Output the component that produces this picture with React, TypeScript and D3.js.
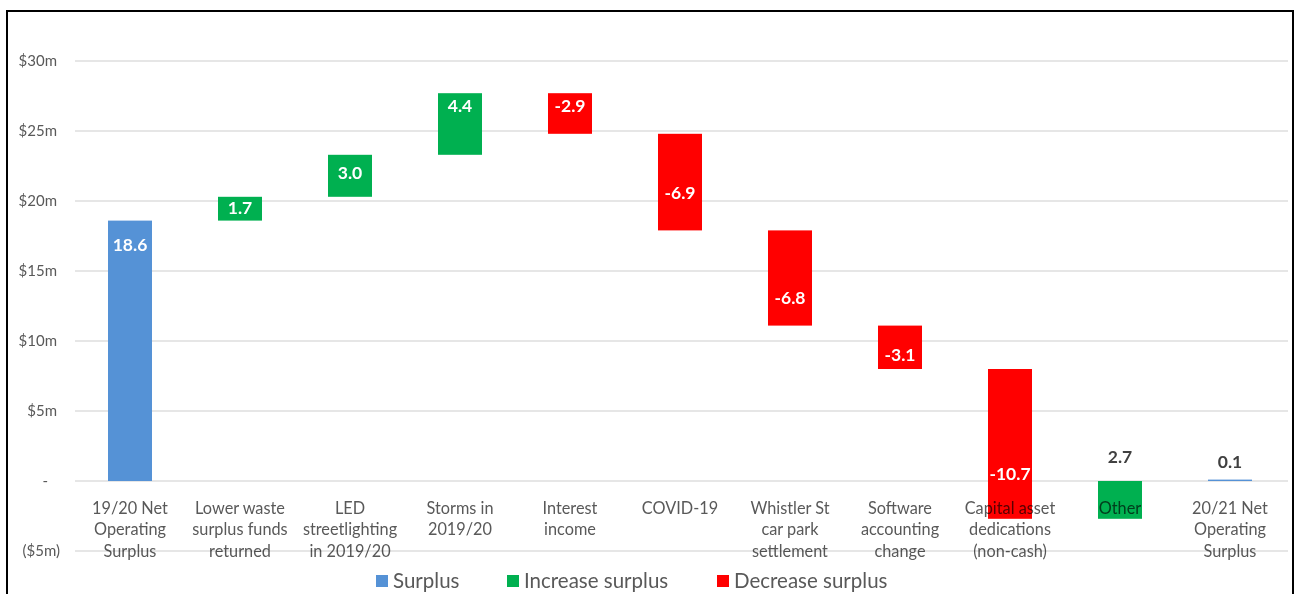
import React from "react";
import * as d3 from "d3";

// Operating surplus bridge, 2019/20 to 2020/21 ($m)
const categories: string[][] = [
  ["19/20 Net", "Operating", "Surplus"],
  ["Lower waste", "surplus funds", "returned"],
  ["LED", "streetlighting", "in 2019/20"],
  ["Storms in", "2019/20"],
  ["Interest", "income"],
  ["COVID-19"],
  ["Whistler St", "car park", "settlement"],
  ["Software", "accounting", "change"],
  ["Capital asset", "dedications", "(non-cash)"],
  ["Other"],
  ["20/21 Net", "Operating", "Surplus"],
];
const values: number[] = [18.6, 1.7, 3.0, 4.4, -2.9, -6.9, -6.8, -3.1, -10.7, 2.7, 0.1];
const kinds: string[] = ["total", "inc", "inc", "inc", "dec", "dec", "dec", "dec", "dec", "inc", "total"];
// where each value label sits on the $m axis
const labelAt: number[] = [16.9, 19.5, 22.0, 26.8, 26.8, 20.6, 13.1, 9.0, 0.5, 1.7, 1.4];
const yTicks: number[] = [-5, 0, 5, 10, 15, 20, 25, 30];
const legendItems = [
  { key: "total", label: "Surplus" },
  { key: "inc", label: "Increase surplus" },
  { key: "dec", label: "Decrease surplus" },
];

const W = 1295;
const H = 594;
const colors: Record<string, string> = { total: "#5592d6", inc: "#00b050", dec: "#ff0000" };
const FONT = "Lato, 'Open Sans', sans-serif";
const GREY = "#595959";

export default function App() {
  const keys = categories.map((c) => c.join(" "));
  const x = d3.scaleBand<string>().domain(keys).range([75, 1285]).paddingInner(0.6).paddingOuter(0.3);
  const y = d3.scaleLinear().domain([-5, 30]).range([551, 61]);

  // running waterfall extents
  let run = 0;
  const bars = values.map((v, i) => {
    let lo: number, hi: number;
    if (kinds[i] === "total") {
      lo = Math.min(0, v);
      hi = Math.max(0, v);
      run = v;
    } else {
      const next = run + v;
      lo = Math.min(run, next);
      hi = Math.max(run, next);
      run = next;
    }
    return { key: keys[i], v, kind: kinds[i], lo, hi, at: labelAt[i] };
  });

  const tickText = (t: number) => (t === 0 ? "-" : t < 0 ? `($${Math.abs(t)}m)` : `$${t}m`);
  const tickX = (t: number) => (t === 0 ? 48 : t < 0 ? 60 : 57);

  const legendX = [376, 507, 717];

  return (
    <div style={{ position: "fixed", left: 0, top: 0 }}>
      <svg width={W} height={H} style={{ display: "block", background: "#fff" }}>
        <rect x={7} y={11} width={1286} height={620} fill="#fff" stroke="#000" strokeWidth={2} />
        {/* gridlines and value axis */}
        {yTicks.map((t) => (
          <g key={t}>
            <line x1={75} x2={1288} y1={y(t)} y2={y(t)} stroke="#dedede" strokeWidth={1.5} />
            <text
              x={tickX(t)}
              y={y(t)}
              dy="0.35em"
              textAnchor="end"
              fontFamily={FONT}
              fontSize={15}
              fill={GREY}
            >
              {tickText(t)}
            </text>
          </g>
        ))}
        {/* bars */}
        {bars.map((b) => (
          <rect
            key={b.key}
            x={x(b.key)}
            width={x.bandwidth()}
            y={y(b.hi)}
            height={Math.max(1, y(b.lo) - y(b.hi))}
            fill={colors[b.kind]}
          />
        ))}
        {/* category labels */}
        <g style={{ mixBlendMode: "multiply" }}>
          {categories.map((lines, i) => (
            <text
              key={keys[i]}
              x={(x(keys[i]) as number) + x.bandwidth() / 2}
              y={508}
              textAnchor="middle"
              fontFamily={FONT}
              fontSize={16.3}
              fill={GREY}
            >
              {lines.map((l, j) => (
                <tspan key={j} x={(x(keys[i]) as number) + x.bandwidth() / 2} dy={j === 0 ? "0.35em" : 21.5}>
                  {l}
                </tspan>
              ))}
            </text>
          ))}
        </g>
        {/* value labels */}
        {bars.map((b) => {
          const inside = b.at > b.lo && b.at < b.hi;
          return (
            <text
              key={"l" + b.key}
              x={(x(b.key) as number) + x.bandwidth() / 2}
              y={y(b.at)}
              dy="0.35em"
              textAnchor="middle"
              fontFamily={FONT}
              fontWeight={700}
              fontSize={17.5}
              fill={inside ? "#fff" : "#404040"}
            >
              {b.v.toFixed(1)}
            </text>
          );
        })}
        {/* legend */}
        {legendItems.map((it, i) => (
          <g key={it.key} transform={`translate(${legendX[i]},581)`}>
            <rect x={0} y={-6} width={12} height={12} fill={colors[it.key]} />
            <text x={17} y={0} dy="0.35em" fontFamily={FONT} fontSize={20.5} fill={GREY}>
              {it.label}
            </text>
          </g>
        ))}
      </svg>
    </div>
  );
}
